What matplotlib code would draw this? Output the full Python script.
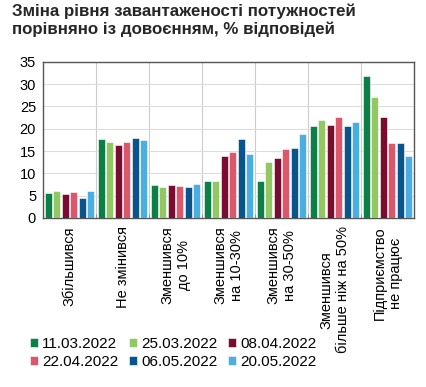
import numpy as np
import matplotlib.pyplot as plt

plt.rcParams['font.family'] = ['Liberation Sans', 'DejaVu Sans']

categories = ['Збільшився', 'Не змінився', 'Зменшився\nдо 10%', 'Зменшився\nна 10-30%',
              'Зменшився\nна 30-50%', 'Зменшився\nбільше ніж на 50%', 'Підприємство\nне працює']
dates = ['11.03.2022', '25.03.2022', '08.04.2022', '22.04.2022', '06.05.2022', '20.05.2022']
colors = ['#0b7f45', '#93c763', '#7a0c32', '#dc566c', '#0a548c', '#4aaee2']

s_1103 = [5.6, 17.6, 7.4, 8.3, 8.3, 20.7, 31.9]
s_2503 = [6.0, 17.0, 6.9, 8.3, 12.6, 22.0, 27.1]
s_0804 = [5.3, 16.4, 7.4, 13.9, 13.5, 20.9, 22.7]
s_2204 = [5.9, 17.1, 7.2, 14.7, 15.5, 22.7, 16.9]
s_0605 = [4.4, 18.0, 7.0, 17.7, 15.7, 20.6, 16.8]
s_2005 = [6.1, 17.5, 7.7, 14.4, 18.8, 21.6, 13.9]
series = [s_1103, s_2503, s_0804, s_2204, s_0605, s_2005]

fig = plt.figure(figsize=(4.26, 3.87), dpi=100)
ax = fig.add_axes([0.101, 0.437, 0.871, 0.403])

x = np.arange(len(categories))
step = 0.16
bars = []
for i, (vals, c, lab) in enumerate(zip(series, colors, dates)):
    b = ax.bar(x + (i - 2.5) * step, vals, width=0.135, color=c, label=lab,
               edgecolor='white', linewidth=0.4, zorder=3)
    bars.append(b)

ax.set_xlim(-0.5, len(categories) - 0.5)
ax.set_ylim(0, 35)
ax.set_yticks(range(0, 36, 5))
ax.tick_params(axis='y', length=0, labelsize=10.5, pad=5)

ax.set_xticks(x)
ax.set_xticklabels(categories, rotation=90, fontsize=10.5, ha='center', va='top',
                   multialignment='center')
ax.tick_params(axis='x', length=0, pad=6)
ax.set_xticks(np.arange(0.5, len(categories) - 1), minor=True)
ax.tick_params(axis='x', which='minor', length=3, color='#888888', direction='in')

ax.grid(axis='y', color='#dddddd', linewidth=0.8, zorder=0)
ax.grid(axis='x', which='minor', color='#cccccc', linewidth=0.8, zorder=0)
for sp in ax.spines.values():
    sp.set_color('#555555')
    sp.set_linewidth(1)

fig.text(0.027, 0.99, 'Зміна рівня завантаженості потужностей\nпорівняно із довоєнням, % відповідей',
         fontsize=12.2, fontweight='bold', va='top', ha='left', color='#262626', linespacing=1.2)

# row-wise legend order with ncol=3
order = [0, 3, 1, 4, 2, 5]
fig.legend([bars[k] for k in order], [dates[k] for k in order],
           loc='lower left', bbox_to_anchor=(0.055, 0.03), ncol=3, frameon=False,
           fontsize=11, handlelength=0.55, handleheight=0.55, handletextpad=0.25,
           columnspacing=0.7, labelspacing=0.3, borderaxespad=0)

fig.savefig('out.png', dpi=100)
